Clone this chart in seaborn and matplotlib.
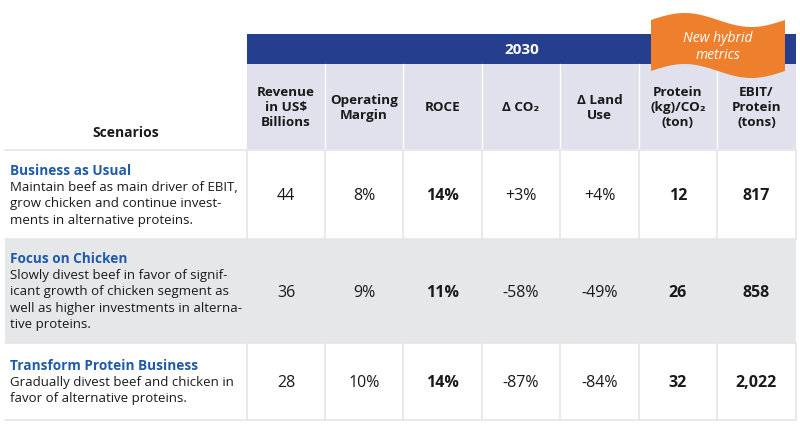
import numpy as np
import matplotlib.pyplot as plt
import seaborn as sns
from matplotlib.patches import Rectangle, Polygon

# Table content
columns = ["Revenue\nin US$\nBillions", "Operating\nMargin", "ROCE", "Δ CO₂",
           "Δ Land\nUse", "Protein\n(kg)/CO₂\n(ton)", "EBIT/\nProtein\n(tons)"]
bold_cols = [False, False, True, False, False, True, True]

scenarios = ["Business as Usual", "Focus on Chicken", "Transform Protein Business"]
descriptions = [
    ["Maintain beef as main driver of EBIT,", "grow chicken and continue invest-",
     "ments in alternative proteins."],
    ["Slowly divest beef in favor of signif-", "icant growth of chicken segment as",
     "well as higher investments in alterna-", "tive proteins."],
    ["Gradually divest beef and chicken in", "favor of alternative proteins."],
]

revenue = ["44", "36", "28"]
op_margin = ["8%", "9%", "10%"]
roce = ["14%", "11%", "14%"]
delta_co2 = ["+3%", "-58%", "-87%"]
delta_land = ["+4%", "-49%", "-84%"]
protein_co2 = ["12", "26", "32"]
ebit_protein = ["817", "858", "2,022"]

sns.set_theme(style="white")
plt.rcParams['font.family'] = ['Open Sans', 'DejaVu Sans']

BLUE = "#253f8e"
LAVENDER = "#e1e1ee"
GRAY = "#e6e7e9"
LINE = "#e4e4ea"
TITLE = "#1f5ba8"
TEXT = "#1a1a1a"
ORANGE = "#ee7f2d"

fig = plt.figure(figsize=(8, 4.39), dpi=100)
ax = fig.add_axes([0, 0, 1, 1])
ax.set_xlim(0, 800)
ax.set_ylim(439, 0)
ax.axis('off')

col_x = [247, 325, 403, 482, 560, 639, 717, 796]
row_y = [151, 240, 344, 421]
left = 5

# header bands
ax.add_patch(Rectangle((col_x[0], 35), col_x[-1] - col_x[0], 30, color=BLUE, lw=0))
ax.add_patch(Rectangle((col_x[0], 65), col_x[-1] - col_x[0], 85, color=LAVENDER, lw=0))
for x in col_x[1:-1]:
    ax.plot([x, x], [65, 150], color="white", lw=1.0)
ax.text((col_x[0] + col_x[-1]) / 2, 50.5, "2030", color="white", fontsize=11,
        fontweight="bold", ha="center", va="center")
ax.text(126, 133, "Scenarios", color=TEXT, fontsize=10, fontweight="bold",
        ha="center", va="center")
for i, label in enumerate(columns):
    cx = (col_x[i] + col_x[i + 1]) / 2
    ax.text(cx, 108, label, color=TEXT, fontsize=9.7, fontweight="bold",
            ha="center", va="center", linespacing=1.2)

# orange flag
t = np.linspace(0, 1, 60)
fx = 651 + t * (785 - 651)
top = 21 - 7 * np.sin(2 * np.pi * t)
bot = top + 51
pts = np.vstack([np.column_stack([fx, top]), np.column_stack([fx[::-1], bot[::-1]])])
ax.add_patch(Polygon(pts, closed=True, color=ORANGE, lw=0, zorder=5))
ax.text(718, 47, "New hybrid\nmetrics", color="white", fontsize=10, style="italic",
        ha="center", va="center", linespacing=1.1, zorder=6)

# body rows
values = [revenue, op_margin, roce, delta_co2, delta_land, protein_co2, ebit_protein]
ax.plot([left, col_x[-1]], [row_y[0], row_y[0]], color=LINE, lw=1.2)
for r in range(3):
    y0, y1 = row_y[r], row_y[r + 1]
    if r == 1:
        ax.add_patch(Rectangle((left, y0), col_x[-1] - left, y1 - y0, color=GRAY, lw=0))
    else:
        for x in col_x:
            ax.plot([x, x], [y0, y1], color=LINE, lw=1.2)
    ax.plot([left, col_x[-1]], [y1, y1], color=LINE, lw=1.2)
    yc = (y0 + y1) / 2
    lines = [scenarios[r]] + descriptions[r]
    step = 16.5
    start = yc - step * (len(lines) - 1) / 2
    for k, line in enumerate(lines):
        if k == 0:
            ax.text(10, start, line, color=TITLE, fontsize=9.8, fontweight="bold",
                    ha="left", va="center")
        else:
            ax.text(10, start + k * step, line, color=TEXT, fontsize=9.5,
                    ha="left", va="center")
    for c in range(7):
        cx = (col_x[c] + col_x[c + 1]) / 2
        ax.text(cx, yc + 1, values[c][r], color=TEXT, fontsize=11.5,
                fontweight="bold" if bold_cols[c] else "normal",
                ha="center", va="center")

fig.savefig("out.png", dpi=100, facecolor="white")
